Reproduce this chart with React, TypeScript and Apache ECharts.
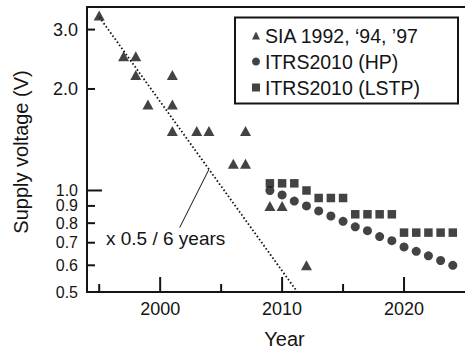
import React, { useEffect, useRef } from "react";
import * as echarts from "echarts";

const siaYears = [1995, 1997, 1998, 1998, 1999, 2001, 2001, 2001, 2003, 2004, 2006, 2007, 2007, 2009, 2010, 2012];
const siaVolts = [3.3, 2.5, 2.5, 2.2, 1.8, 2.2, 1.8, 1.5, 1.5, 1.5, 1.2, 1.2, 1.5, 0.9, 0.9, 0.6];
const itrsYears = [2009, 2010, 2011, 2012, 2013, 2014, 2015, 2016, 2017, 2018, 2019, 2020, 2021, 2022, 2023, 2024];
const hpVolts = [1.0, 0.97, 0.93, 0.9, 0.87, 0.84, 0.81, 0.78, 0.76, 0.73, 0.71, 0.68, 0.66, 0.64, 0.62, 0.6];
const lstpVolts = [1.05, 1.05, 1.05, 1.0, 0.95, 0.95, 0.95, 0.85, 0.85, 0.85, 0.85, 0.75, 0.75, 0.75, 0.75, 0.75];
const trendYears = [1995, 2011.25];
const trendVolts = [3.27, 0.5];
const leaderYears = [2001.6, 2004];
const leaderVolts = [0.776, 1.155];

const X_MIN = 1994;
const X_MAX = 2025;
const Y_MIN = 0.5;
const Y_MAX = 3.5;
const xLabelValues = [2000, 2010, 2020];
const xMajorTicks = [2000, 2010, 2020];
const xMinorTicks = [1995, 2005, 2015];
const yLabelValues = [0.5, 0.6, 0.7, 0.8, 0.9, 1.0, 2.0, 3.0];
const yShortTicks = [0.6, 0.7, 0.8, 0.9, 2.0, 3.0];
const yLongTicks = [1.0];

const seriesNames = ["SIA 1992, \u201894, \u201997", "ITRS2010 (HP)", "ITRS2010 (LSTP)"];

const INK = "#141414";
const FONT = "'Liberation Sans', Arial, Helvetica, sans-serif";
const LONG = 15;
const SHORT = 8;
const GRID = { left: 87, right: 0, top: 7, bottom: 59 };
const W = 465;
const H = 351;

const zip = (xs: number[], ys: number[]) => xs.map((x, i) => [x, ys[i]]);

export default function App() {
  const ref = useRef<HTMLDivElement>(null);
  useEffect(() => {
    if (!ref.current) return;
    const chart = echarts.init(ref.current, undefined, { renderer: "svg" });
    const xBase = { type: "value", min: X_MIN, max: X_MAX, splitLine: { show: false } };
    const staticGraphics: any[] = [
      {
        id: "legendBox",
        type: "rect",
        shape: { x: 235, y: 17.5, width: 223, height: 86 },
        style: { fill: "none", stroke: INK, lineWidth: 2 },
        silent: true,
      },
      {
        id: "note",
        type: "text",
        x: 106,
        y: 238,
        style: { text: "x 0.5 / 6 years", fill: INK, font: `19px ${FONT}`, align: "left", verticalAlign: "middle" },
      },
      {
        id: "xName",
        type: "text",
        x: 284.5,
        y: 339,
        style: { text: "Year", fill: INK, font: `20px ${FONT}`, align: "center", verticalAlign: "middle" },
      },
      {
        id: "yName",
        type: "text",
        x: 21,
        y: 152,
        rotation: Math.PI / 2,
        style: { text: "Supply voltage (V)", fill: INK, font: `20px ${FONT}`, align: "center", verticalAlign: "middle" },
      },
    ];
    chart.setOption({
      animation: false,
      backgroundColor: "#fff",
      textStyle: { fontFamily: FONT },
      grid: { ...GRID, containLabel: false },
      xAxis: [
        {
          ...xBase,
          position: "bottom",
          axisLine: { show: true, lineStyle: { color: INK, width: 2 } },
          axisTick: { show: false },
          axisLabel: {
            show: true,
            customValues: xLabelValues,
            margin: 8,
            color: INK,
            fontSize: 18,
            fontFamily: FONT,
            formatter: (v: number) => String(Math.round(v)),
          },
        },
        {
          ...xBase,
          position: "top",
          axisLine: { show: true, lineStyle: { color: INK, width: 2 } },
          axisTick: { show: false },
          axisLabel: { show: false },
        },
      ],
      yAxis: [
        {
          type: "log",
          logBase: 10,
          min: Y_MIN,
          max: Y_MAX,
          splitLine: { show: false },
          position: "left",
          axisLine: { show: true, lineStyle: { color: INK, width: 2 } },
          axisTick: { show: false },
          axisLabel: {
            show: true,
            customValues: yLabelValues,
            margin: 9,
            color: INK,
            formatter: (v: number) => (v >= 1.5 ? `{big|${v.toFixed(1)}}` : `{small|${v.toFixed(1)}}`),
            rich: {
              big: { fontSize: 18, fontFamily: FONT, color: INK },
              small: { fontSize: 16, fontFamily: FONT, color: INK },
            },
          },
        },
      ],
      legend: {
        orient: "vertical",
        left: 252,
        top: 25,
        padding: 0,
        itemGap: 5,
        itemWidth: 8,
        itemHeight: 8,
        textStyle: { fontSize: 19.5, lineHeight: 21, color: INK, fontFamily: FONT },
        data: [
          { name: seriesNames[0], icon: "triangle" },
          { name: seriesNames[1], icon: "circle" },
          { name: seriesNames[2], icon: "rect" },
        ],
        selectedMode: false,
      },
      series: [
        {
          name: seriesNames[0],
          type: "scatter",
          symbol: "triangle",
          symbolSize: [11, 10],
          itemStyle: { color: INK },
          data: zip(siaYears, siaVolts),
          z: 5,
        },
        {
          name: seriesNames[1],
          type: "scatter",
          symbol: "circle",
          symbolSize: 9,
          itemStyle: { color: INK },
          data: zip(itrsYears, hpVolts),
          z: 5,
        },
        {
          name: seriesNames[2],
          type: "scatter",
          symbol: "rect",
          symbolSize: 8.5,
          itemStyle: { color: INK },
          data: zip(itrsYears, lstpVolts),
          z: 5,
        },
        {
          name: "trend",
          type: "line",
          symbol: "none",
          data: zip(trendYears, trendVolts),
          lineStyle: { color: INK, width: 1.8, type: [1.6, 2.2] },
          silent: true,
          z: 3,
        },
        {
          name: "leader",
          type: "line",
          symbol: "none",
          data: zip(leaderYears, leaderVolts),
          lineStyle: { color: INK, width: 1 },
          silent: true,
          z: 3,
        },
      ],
      graphic: staticGraphics,
    });

    // Pixel position through the chart's scales, with a geometric fallback.
    const plotW = W - GRID.left - GRID.right;
    const plotH = H - GRID.top - GRID.bottom;
    const fallback = (x: number, y: number) => [
      GRID.left + ((x - X_MIN) / (X_MAX - X_MIN)) * plotW,
      GRID.top + ((Math.log10(Y_MAX) - Math.log10(y)) / (Math.log10(Y_MAX) - Math.log10(Y_MIN))) * plotH,
    ];
    const toPx = (x: number, y: number) => {
      let p: any = null;
      try {
        p = chart.convertToPixel({ xAxisIndex: 0, yAxisIndex: 0 }, [x, y]);
      } catch (e) {
        p = null;
      }
      if (!p || !isFinite(p[0]) || !isFinite(p[1])) return fallback(x, y);
      return p as number[];
    };
    const tickRects: any[] = [];
    const xTick = (v: number, len: number, id: string) => {
      const p = toPx(v, Y_MIN);
      tickRects.push({
        id,
        type: "rect",
        z: 100,
        silent: true,
        shape: { x: p[0] - 1, y: p[1] - len, width: 2, height: len },
        style: { fill: INK },
      });
    };
    const yTick = (v: number, len: number, id: string) => {
      const p = toPx(X_MIN, v);
      tickRects.push({
        id,
        type: "rect",
        z: 100,
        silent: true,
        shape: { x: p[0], y: p[1] - 1, width: len, height: 2 },
        style: { fill: INK },
      });
    };
    xMajorTicks.forEach((v, i) => xTick(v, LONG, `xtL${i}`));
    xMinorTicks.forEach((v, i) => xTick(v, SHORT, `xtS${i}`));
    yLongTicks.forEach((v, i) => yTick(v, LONG, `ytL${i}`));
    yShortTicks.forEach((v, i) => yTick(v, SHORT, `ytS${i}`));
    chart.setOption({ graphic: [...staticGraphics, ...tickRects] });

    return () => chart.dispose();
  }, []);
  return (
    <div
      ref={ref}
      style={{ position: "absolute", left: 0, top: 0, width: W, height: H, background: "#fff" }}
    />
  );
}
